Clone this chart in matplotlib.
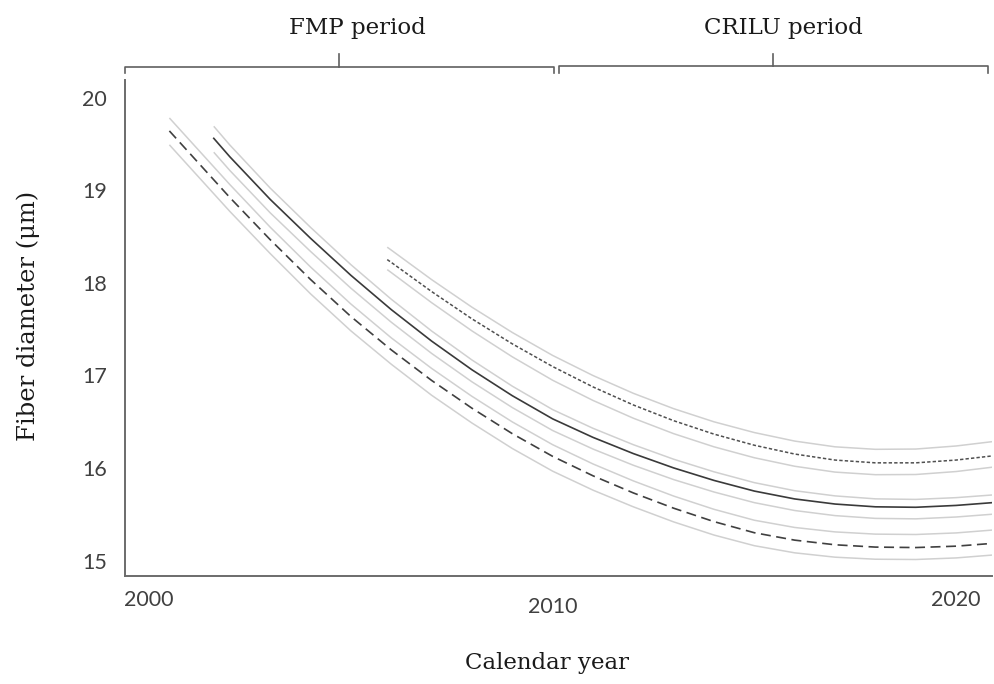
import matplotlib
matplotlib.use("Agg")
import matplotlib.pyplot as plt
from matplotlib.transforms import ScaledTranslation

# === data ===
# long-dashed series
dash_years = [2000.5, 2001, 2002, 2003, 2004, 2005, 2006, 2007, 2008, 2009, 2010,
              2011, 2012, 2013, 2014, 2015, 2016, 2017, 2018, 2019, 2020, 2020.9]
dash_mid = [19.64, 19.40, 18.92, 18.465, 18.035, 17.635, 17.275, 16.945, 16.645, 16.37, 16.125,
            15.915, 15.73, 15.565, 15.42, 15.30, 15.22, 15.17, 15.145, 15.14, 15.155, 15.185]
dash_hi = [19.78, 19.54, 19.06, 18.60, 18.17, 17.77, 17.405, 17.075, 16.773, 16.497, 16.251,
           16.043, 15.86, 15.696, 15.553, 15.435, 15.357, 15.309, 15.285, 15.281, 15.298, 15.329]
dash_lo = [19.49, 19.25, 18.77, 18.315, 17.88, 17.48, 17.12, 16.785, 16.485, 16.21, 15.965,
           15.76, 15.58, 15.417, 15.275, 15.16, 15.083, 15.036, 15.014, 15.011, 15.028, 15.059]

# solid series
solid_years = [2001.6, 2002, 2003, 2004, 2005, 2006, 2007, 2008, 2009, 2010,
               2011, 2012, 2013, 2014, 2015, 2016, 2017, 2018, 2019, 2020, 2020.9]
solid_mid = [19.56, 19.36, 18.90, 18.48, 18.08, 17.71, 17.37, 17.06, 16.78, 16.53,
             16.33, 16.155, 16.00, 15.865, 15.75, 15.665, 15.61, 15.58, 15.575, 15.595, 15.625]
solid_hi = [19.69, 19.487, 19.022, 18.598, 18.195, 17.822, 17.479, 17.166, 16.883, 16.63,
            16.428, 16.251, 16.094, 15.958, 15.841, 15.754, 15.698, 15.666, 15.66, 15.679, 15.708]
solid_lo = [19.41, 19.212, 18.755, 18.338, 17.941, 17.574, 17.237, 16.93, 16.652, 16.404,
            16.204, 16.029, 15.874, 15.74, 15.625, 15.54, 15.485, 15.455, 15.45, 15.47, 15.50]

# short-dashed (dotted) series
dot_years = [2005.9, 2006, 2007, 2008, 2009, 2010, 2011, 2012, 2013,
             2014, 2015, 2016, 2017, 2018, 2019, 2020, 2020.9]
dot_mid = [18.25, 18.22, 17.905, 17.61, 17.34, 17.095, 16.875, 16.68, 16.51,
           16.365, 16.245, 16.15, 16.085, 16.055, 16.055, 16.085, 16.13]
dot_hi = [18.384, 18.353, 18.034, 17.736, 17.463, 17.215, 16.998, 16.806, 16.64,
          16.498, 16.382, 16.29, 16.228, 16.201, 16.204, 16.237, 16.284]
dot_lo = [18.142, 18.11, 17.785, 17.48, 17.20, 16.947, 16.729, 16.537, 16.37,
          16.228, 16.11, 16.018, 15.955, 15.927, 15.929, 15.961, 16.008]

x_ticks = [2000, 2010, 2020]
y_ticks = [15, 16, 17, 18, 19, 20]

W, H = 995, 684


def fx(px):
    return px / W


def fy(py):
    return 1 - py / H


fig = plt.figure(figsize=(W / 100, H / 100), dpi=100)
ax = fig.add_axes([fx(125), fy(575.7), fx(992) - fx(125), fy(80) - fy(575.7)])

band_kw = dict(color="#d0d0d0", lw=1.1, solid_capstyle="butt")
for yrs, hi, lo in [(dash_years, dash_hi, dash_lo),
                    (solid_years, solid_hi, solid_lo),
                    (dot_years, dot_hi, dot_lo)]:
    ax.plot(yrs, hi, **band_kw)
    ax.plot(yrs, lo, **band_kw)

ax.plot(dash_years, dash_mid, color="#404040", lw=1.2, dashes=(6, 3.3))
ax.plot(solid_years, solid_mid, color="#3a3a3a", lw=1.2)
ax.plot(dot_years, dot_mid, color="#505050", lw=1.1, dashes=(2.2, 1.4))

ax.set_xlim(1999.40, 2020.89)
ax.set_ylim(14.836, 20.19)

for s in ["top", "right"]:
    ax.spines[s].set_visible(False)
for s in ["left", "bottom"]:
    ax.spines[s].set_color("#6b6b6b")
    ax.spines[s].set_linewidth(1.4)

ax.set_xticks(x_ticks)
ax.set_yticks(y_ticks)
ax.tick_params(axis="both", length=0, labelsize=15.5, labelcolor="#404040")
ax.tick_params(axis="x", pad=10)
ax.tick_params(axis="y", pad=13)
for lab in ax.get_xticklabels() + ax.get_yticklabels():
    lab.set_fontfamily("Lato")

# the middle year label sits a little lower in the original
lab10 = ax.get_xticklabels()[1]
lab10.set_transform(lab10.get_transform() + ScaledTranslation(0, -7 / 100, fig.dpi_scale_trans))

serif = "DejaVu Serif"
fig.text(fx(28), fy(316), "Fiber diameter (\u03bcm)", rotation=90, ha="center", va="center",
         fontsize=17.5, family=serif, color="#1a1a1a")
fig.text(fx(547), fy(663), "Calendar year", ha="center", va="center",
         fontsize=16.5, family=serif, color="#1a1a1a")

# period brackets above the plot
br_color = "#606060"


def bracket(x0, x1, xm, ytop):
    fig.add_artist(plt.Line2D([fx(x0), fx(x0), fx(x1), fx(x1)],
                              [fy(72.5), fy(ytop), fy(ytop), fy(72.5)],
                              color=br_color, lw=1.2))
    fig.add_artist(plt.Line2D([fx(xm), fx(xm)], [fy(ytop), fy(54)], color=br_color, lw=1.2))


bracket(125, 554, 339, 67)
bracket(559, 988, 773, 66)
fig.text(fx(357), fy(34), "FMP period", ha="center", va="baseline",
         fontsize=16.5, family=serif, color="#1a1a1a")
fig.text(fx(783), fy(34), "CRILU period", ha="center", va="baseline",
         fontsize=16.5, family=serif, color="#1a1a1a")

fig.savefig("out.png", dpi=100)
